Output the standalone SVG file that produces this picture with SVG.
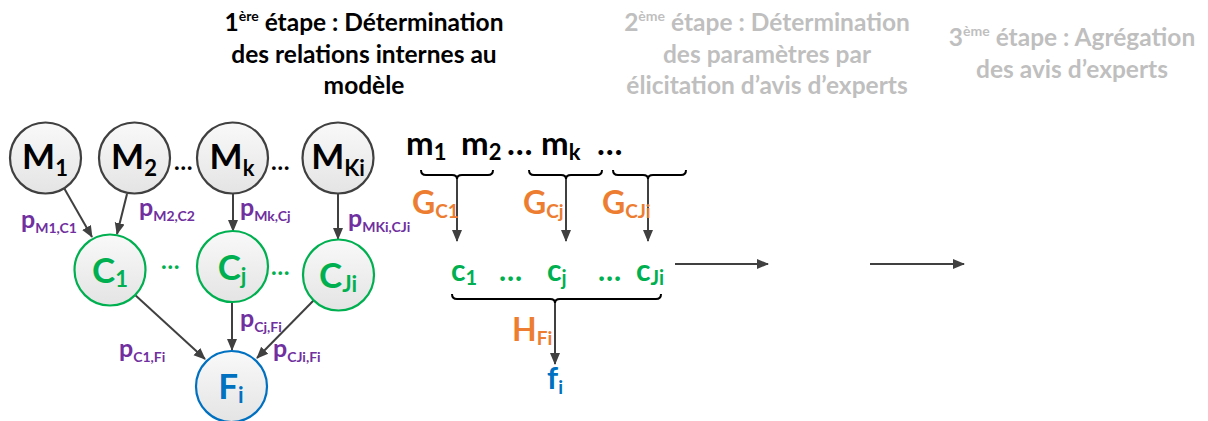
<svg xmlns="http://www.w3.org/2000/svg" width="1208" height="421" viewBox="0 0 1208 421">
<defs>
<linearGradient id="g" x1="0" y1="0" x2="0" y2="1">
<stop offset="0" stop-color="#f9f9f9"/><stop offset="1" stop-color="#e4e4e4"/>
</linearGradient>
<marker id="ah" markerUnits="userSpaceOnUse" markerWidth="12" markerHeight="12" viewBox="0 0 12 12" refX="11" refY="6" orient="auto">
<path d="M0,1 L12,6 L0,11 Z" fill="#404040"/>
</marker>
<style>
text{font-family:Lato,"Open Sans","Liberation Sans",sans-serif;font-weight:bold}
.t1{font-size:24.5px;fill:#000;text-anchor:middle}
.t2{font-size:24.5px;fill:#bfbfbf;text-anchor:middle}
.sup{font-size:14px}
.nm{fill:url(#g);stroke:#404040;stroke-width:2.2}
.nc{fill:url(#g);stroke:#00b050;stroke-width:2.2}
.nf{fill:url(#g);stroke:#0070c0;stroke-width:2.2}
.lm{font-size:35px;fill:#000;text-anchor:middle}
.lc{font-size:35px;fill:#00b050;text-anchor:middle}
.lf{font-size:35px;fill:#0070c0;text-anchor:middle}
.sub{font-size:22px}
.p{font-size:25px;fill:#7030a0}
.ps{font-size:14px}
.c{stroke:#404040;stroke-width:2;fill:none;marker-end:url(#ah)}
.br{stroke:#000;stroke-width:2;fill:none}
.dots{font-size:24px;fill:#000}
.gd{font-size:24px;fill:#00b050}
.m{font-size:33px;fill:#000}
.ms{font-size:22px}
.o{font-size:32px;fill:#ed7d31}
.os{font-size:19px}
.cg{font-size:30px;fill:#00b050}
.cs{font-size:20px}
.fb{font-size:31px;fill:#0070c0}
</style>
</defs>

<g id="titles">
<text class="t1" x="364" y="31">1<tspan class="sup" dy="-10">ère</tspan><tspan dy="10"> étape : Détermination</tspan></text>
<text class="t1" x="364" y="63">des relations internes au</text>
<text class="t1" x="364" y="94">modèle</text>
<text class="t2" x="767" y="31">2<tspan class="sup" dy="-10">ème</tspan><tspan dy="10"> étape : Détermination</tspan></text>
<text class="t2" x="767" y="63">des paramètres par</text>
<text class="t2" x="767" y="94">élicitation d’avis d’experts</text>
<text class="t2" x="1072" y="46">3<tspan class="sup" dy="-10">ème</tspan><tspan dy="10"> étape : Agrégation</tspan></text>
<text class="t2" x="1072" y="78">des avis d’experts</text>
</g>

<g id="connectors">
<line class="c" x1="64" y1="188" x2="92" y2="237"/>
<line class="c" x1="127" y1="194" x2="117" y2="234"/>
<line class="c" x1="233" y1="194" x2="233" y2="231"/>
<line class="c" x1="338" y1="194" x2="338" y2="239"/>
<line class="c" x1="134" y1="294" x2="205" y2="359"/>
<line class="c" x1="232" y1="302" x2="232" y2="350"/>
<line class="c" x1="314" y1="300" x2="257" y2="358"/>
<line class="c" x1="457" y1="178" x2="457" y2="241"/>
<line class="c" x1="566" y1="178" x2="566" y2="241"/>
<line class="c" x1="648" y1="178" x2="648" y2="241"/>
<line class="c" x1="555" y1="303" x2="555" y2="364"/>
<line class="c" x1="675" y1="264" x2="768" y2="264"/>
<line class="c" x1="870" y1="264" x2="964" y2="264"/>
</g>

<g id="M1"><circle class="nm" cx="45.5" cy="158" r="35.5"/><text class="lm" x="45" y="169">M<tspan class="sub" dy="7">1</tspan></text></g>
<g id="M2"><circle class="nm" cx="134.5" cy="158" r="35.5"/><text class="lm" x="134" y="169">M<tspan class="sub" dy="7">2</tspan></text></g>
<g id="Mk"><circle class="nm" cx="232.5" cy="158" r="35.5"/><text class="lm" x="232" y="169">M<tspan class="sub" dy="7">k</tspan></text></g>
<g id="MKi"><circle class="nm" cx="338" cy="158" r="35.5"/><text class="lm" x="338" y="169">M<tspan class="sub" dy="7">Ki</tspan></text></g>
<text class="dots" x="174" y="170">…</text>
<text class="dots" x="271" y="170">…</text>

<g id="C1"><circle class="nc" cx="110" cy="270" r="35.5"/><text class="lc" x="110" y="283">C<tspan class="sub" dy="4">1</tspan></text></g>
<g id="Cj"><circle class="nc" cx="232.5" cy="266.5" r="35.5"/><text class="lc" x="232" y="280">C<tspan class="sub" dy="4">j</tspan></text></g>
<g id="CJi"><circle class="nc" cx="338.5" cy="275" r="35.5"/><text class="lc" x="338" y="288">C<tspan class="sub" dy="4">Ji</tspan></text></g>
<text class="gd" x="161" y="269">…</text>
<text class="gd" x="271" y="275">…</text>

<g id="Fi"><circle class="nf" cx="231.5" cy="386.5" r="35.5"/><text class="lf" x="231" y="399">F<tspan class="sub" dy="4">i</tspan></text></g>

<g id="plabels">
<text class="p" x="21" y="228">p<tspan class="ps" dy="5">M1,C1</tspan></text>
<text class="p" x="139" y="216">p<tspan class="ps" dy="5">M2,C2</tspan></text>
<text class="p" x="240" y="216">p<tspan class="ps" dy="5">Mk,Cj</tspan></text>
<text class="p" x="348" y="227">p<tspan class="ps" dy="5">MKi,CJi</tspan></text>
<text class="p" x="240" y="327">p<tspan class="ps" dy="5">Cj,Fi</tspan></text>
<text class="p" x="119" y="357">p<tspan class="ps" dy="5">C1,Fi</tspan></text>
<text class="p" x="273" y="357">p<tspan class="ps" dy="5">CJi,Fi</tspan></text>
</g>

<g id="step2">
<text class="m" x="406" y="155">m<tspan class="ms" dy="5">1</tspan></text>
<text class="m" x="461" y="155">m<tspan class="ms" dy="5">2</tspan></text>
<text class="m" x="507" y="155">…</text>
<text class="m" x="541" y="155">m<tspan class="ms" dy="5">k</tspan></text>
<text class="m" x="597" y="155">…</text>
<path class="br" d="M421,170 q0,5 5,5 H452 q5,0 5,4 q0,-4 5,-4 H488 q5,0 5,-5"/>
<path class="br" d="M529,170 q0,5 5,5 H561 q5,0 5,4 q0,-4 5,-4 H597 q5,0 5,-5"/>
<path class="br" d="M613,170 q0,5 5,5 H643 q5,0 5,4 q0,-4 5,-4 H681 q5,0 5,-5"/>
<text class="o" x="412" y="214">G<tspan class="os" dy="4">C1</tspan></text>
<text class="o" x="523" y="214">G<tspan class="os" dy="4">Cj</tspan></text>
<text class="o" x="602" y="214">G<tspan class="os" dy="4">CJi</tspan></text>
<text class="cg" x="451" y="281">c<tspan class="cs" dy="4">1</tspan></text>
<text class="cg" x="499" y="281">…</text>
<text class="cg" x="547" y="281">c<tspan class="cs" dy="4">j</tspan></text>
<text class="cg" x="598" y="281">…</text>
<text class="cg" x="636" y="281">c<tspan class="cs" dy="4">Ji</tspan></text>
<path class="br" d="M452,294 q0,5 5,5 H550 q5,0 5,4 q0,-4 5,-4 H656 q5,0 5,-5"/>
<text class="o" x="512" y="341">H<tspan class="os" dy="4">Fi</tspan></text>
<text class="fb" x="547" y="389">f<tspan class="os" dy="5">i</tspan></text>
</g>
</svg>
